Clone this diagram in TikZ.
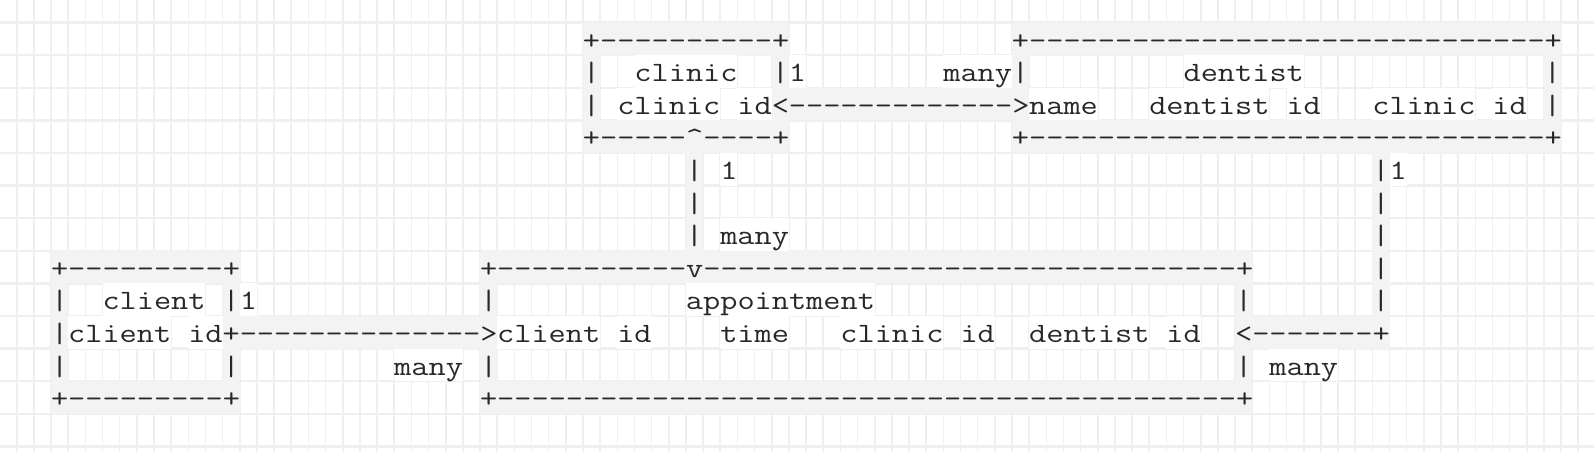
\documentclass[tikz,border=0pt]{standalone}
\usepackage{fontspec}
\usepackage{graphicx}
\ExplSyntaxOn
\cs_new:Npn \dsh #1 {\prg_replicate:nn{#1}{-\kern0pt}}
\ExplSyntaxOff
\definecolor{gridc}{RGB}{239,239,239}
\definecolor{bandc}{RGB}{243,243,243}
\definecolor{txtc}{RGB}{40,40,40}
\tikzset{
  asc/.style={font=\ttfamily\fontsize{14}{16}\selectfont, text=txtc, inner sep=0pt, outer sep=0pt, anchor=base west},
  gridv/.style={draw=gridc, line width=0.8pt},
  gridh/.style={draw=gridc, line width=1.2pt}
}
% column left edge: -0.46+17.16*k ; row top: 22.5+32.6*r ; baseline: 49.1+32.6*r
\newcommand\band[3]{\fill[bandc] ({-0.46+17.16*#1},{22.5+32.6*#3}) rectangle ({-0.46+17.16*(#2+1)},{22.5+32.6*(#3+1)});}
\newcommand\wband[3]{\fill[white] ({-0.46+17.16*#1},{22.5+32.6*#3}) rectangle ({-0.46+17.16*(#2+1)},{22.5+32.6*(#3+1)});}
\newcommand\tx[4]{\node[asc] (#4) at ({-0.46+17.16*#1},{49.1+32.6*#2}) {\scalebox{1.1917}[1]{#3}};}
\begin{document}
\begin{tikzpicture}[x=0.5pt,y=-0.5pt]
\fill[white] (0,0) rectangle (1594,452);
\useasboundingbox (0,0) rectangle (1594,452);
\begin{scope}
\clip (0,0) rectangle (1594,452);
\foreach \k in {0,...,93} \draw[gridv] ({-0.46+17.16*\k},0) -- ({-0.46+17.16*\k},452);
\foreach \k in {-1,...,13} \draw[gridh] (0,{22.5+32.6*\k}) -- (1594,{22.5+32.6*\k});
\end{scope}
% ---- cell backgrounds ----
% row 0
\band{34}{45}{0} \band{59}{90}{0}
% row 1
\band{34}{34}{1} \wband{37}{42}{1} \band{45}{45}{1} \wband{46}{46}{1} \wband{55}{58}{1} \band{59}{59}{1} \wband{69}{75}{1} \band{90}{90}{1}
% row 2
\band{34}{34}{2} \wband{36}{41}{2} \wband{43}{44}{2} \band{45}{59}{2} \wband{60}{63}{2} \wband{67}{73}{2} \wband{75}{76}{2} \wband{80}{85}{2} \wband{87}{88}{2} \band{90}{90}{2}
% row 3
\band{34}{45}{3} \band{59}{90}{3}
% rows 4-6
\band{40}{40}{4} \wband{42}{42}{4} \band{80}{80}{4} \wband{81}{81}{4}
\band{40}{40}{5} \band{80}{80}{5}
\band{40}{40}{6} \wband{42}{45}{6} \band{80}{80}{6}
% row 7
\band{3}{13}{7} \band{28}{72}{7} \band{80}{80}{7}
% row 8
\band{3}{3}{8} \wband{6}{11}{8} \band{13}{13}{8} \wband{14}{14}{8} \band{28}{28}{8} \wband{40}{50}{8} \band{72}{72}{8} \band{80}{80}{8}
% row 9
\band{3}{3}{9} \wband{4}{9}{9} \wband{11}{12}{9} \band{13}{28}{9} \wband{29}{34}{9} \wband{36}{37}{9} \wband{42}{45}{9} \wband{49}{54}{9} \wband{56}{57}{9} \wband{60}{66}{9} \wband{68}{69}{9} \band{72}{80}{9}
% row 10
\band{3}{3}{10} \band{13}{13}{10} \wband{23}{26}{10} \band{28}{28}{10} \band{72}{72}{10} \wband{74}{77}{10}
% row 11
\band{3}{13}{11} \band{28}{72}{11}
% ---- text ----
% clinic box
\tx{34}{0}{+\dsh{10}+}{clinicTop}
\tx{34}{1}{|}{clinicL1}
\tx{37}{1}{clinic}{clinicName}
\tx{45}{1}{|}{clinicR1}
\tx{34}{2}{|}{clinicL2}
\tx{36}{2}{clinic}{clinicId}
\tx{43}{2}{id}{clinicIdB}
\tx{34}{3}{+\dsh{5}\textasciicircum\kern0pt\dsh{4}+}{clinicBottom}
% clinic - dentist link
\tx{46}{1}{1}{cdOne}
\tx{55}{1}{many}{cdMany}
\tx{45}{2}{<\dsh{13}>}{cdLink}
% dentist box
\tx{59}{0}{+\dsh{30}+}{dentistTop}
\tx{59}{1}{|}{dentistL1}
\tx{69}{1}{dentist}{dentistName}
\tx{90}{1}{|}{dentistR1}
\tx{60}{2}{name}{dentistNameF}
\tx{67}{2}{dentist}{dentistId}
\tx{75}{2}{id}{dentistIdB}
\tx{80}{2}{clinic}{dentistClinicId}
\tx{87}{2}{id}{dentistClinicIdB}
\tx{90}{2}{|}{dentistR2}
\tx{59}{3}{+\dsh{30}+}{dentistBottom}
% clinic - appointment link
\tx{40}{4}{|}{caV4}
\tx{42}{4}{1}{caOne}
\tx{40}{5}{|}{caV5}
\tx{40}{6}{|}{caV6}
\tx{42}{6}{many}{caMany}
% dentist - appointment link
\tx{80}{4}{|}{daV4}
\tx{81}{4}{1}{daOne}
\tx{80}{5}{|}{daV5}
\tx{80}{6}{|}{daV6}
\tx{80}{7}{|}{daV7}
\tx{80}{8}{|}{daV8}
\tx{72}{9}{<\dsh{7}+}{daLink}
\tx{74}{10}{many}{daMany}
% client box
\tx{3}{7}{+\dsh{9}+}{clientTop}
\tx{3}{8}{|}{clientL8}
\tx{6}{8}{client}{clientName}
\tx{13}{8}{|}{clientR8}
\tx{3}{9}{|}{clientL9}
\tx{4}{9}{client}{clientId}
\tx{11}{9}{id}{clientIdB}
\tx{3}{10}{|}{clientL10}
\tx{13}{10}{|}{clientR10}
\tx{3}{11}{+\dsh{9}+}{clientBottom}
% client - appointment link
\tx{14}{8}{1}{captOne}
\tx{13}{9}{+\dsh{14}>}{captLink}
\tx{23}{10}{many}{captMany}
% appointment box
\tx{28}{7}{+\dsh{11}v\dsh{31}+}{apptTop}
\tx{28}{8}{|}{apptL8}
\tx{40}{8}{appointment}{apptName}
\tx{72}{8}{|}{apptR8}
\tx{29}{9}{client}{apptClientId}
\tx{36}{9}{id}{apptClientIdB}
\tx{42}{9}{time}{apptTime}
\tx{49}{9}{clinic}{apptClinicId}
\tx{56}{9}{id}{apptClinicIdB}
\tx{60}{9}{dentist}{apptDentistId}
\tx{68}{9}{id}{apptDentistIdB}
\tx{28}{10}{|}{apptL10}
\tx{72}{10}{|}{apptR10}
\tx{28}{11}{+\dsh{43}+}{apptBottom}
\end{tikzpicture}
\end{document}
